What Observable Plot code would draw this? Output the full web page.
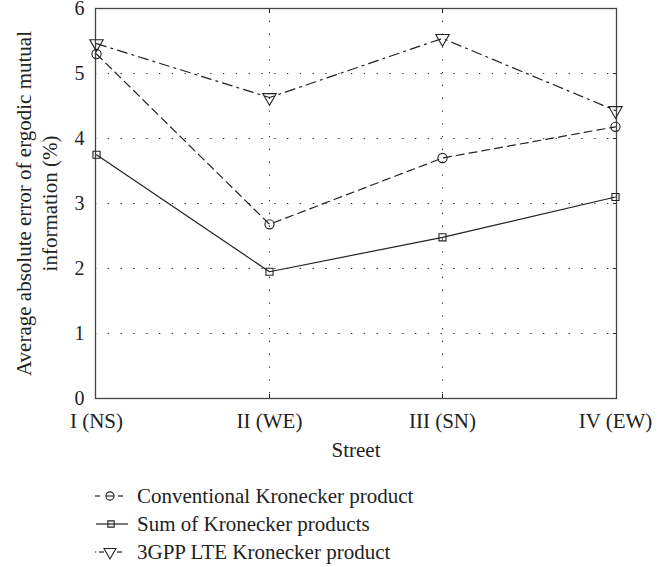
<!DOCTYPE html>
<html>
<head>
<meta charset="utf-8">
<script src="https://cdn.jsdelivr.net/npm/d3@7"></script>
<script src="https://cdn.jsdelivr.net/npm/@observablehq/plot@0.6"></script>
<style>
  body { margin: 0; background: #fff; font-family: "Liberation Serif", "DejaVu Serif", serif; color: #222; }
  #chart svg text { font-size: 21px; font-family: "Liberation Serif", serif; }
  #chart svg g[aria-label="y-axis tick label"] text { font-size: 20px; }
  #legend { padding-top: 12px; padding-left: 95px; }
  .row { height: 28px; display: flex; align-items: center; font-size: 21px; }
  .row svg { margin-right: 8px; }
</style>
</head>
<body>
<div id="chart"></div>
<div id="legend"></div>
<script>
// ---- data ----
const streets = ["I (NS)", "II (WE)", "III (SN)", "IV (EW)"];
const conventional = [5.30, 2.68, 3.70, 4.18];
const sumKronecker = [3.75, 1.95, 2.48, 3.10];
const lteKronecker = [5.46, 4.63, 5.54, 4.43];
const yTicks = [0, 1, 2, 3, 4, 5, 6];
const seriesNames = ["Conventional Kronecker product", "Sum of Kronecker products", "3GPP LTE Kronecker product"];
const xLabel = "Street";
const yLabel1 = "Average absolute error of ergodic mutual";
const yLabel2 = "information (%)";

// ---- styles per series ----
const styles = [
  {dash: "8,5", symbol: "circle", rotate: 0, r: 4.6},
  {dash: null, symbol: "square", rotate: 0, r: 4.0},
  {dash: "10,5,2,5", symbol: "triangle", rotate: 180, r: 5.0}
];
const valuesBySeries = [conventional, sumKronecker, lteKronecker];
const rows = valuesBySeries.map((vals, s) => streets.map((st, i) => ({series: seriesNames[s], street: st, value: vals[i]})));

const ink = "#222";
const marks = [
  Plot.gridY(yTicks.slice(1, -1), {stroke: "#333", strokeOpacity: 1, strokeDasharray: "1.3,11.5", strokeWidth: 1.1}),
  Plot.gridX(streets.slice(1, -1), {stroke: "#333", strokeOpacity: 1, strokeDasharray: "1.3,11.5", strokeWidth: 1.1}),
  Plot.axisY({ticks: yTicks, tickSize: 0, tickPadding: 11, tickFormat: d3.format("d"), label: null}),
  Plot.axisY({anchor: "right", ticks: yTicks.slice(1, -1), tickSize: -4, tickFormat: () => "", label: null}),
  Plot.axisX({ticks: streets, tickSize: 0, tickPadding: 15, label: xLabel, labelAnchor: "center", labelOffset: 58}),
  Plot.axisX({anchor: "top", ticks: streets.slice(1, -1), tickSize: -4, tickFormat: () => "", label: null}),
  Plot.axisX({anchor: "bottom", ticks: streets.slice(1, -1), tickSize: -4, tickFormat: () => "", label: null}),
  Plot.text([yLabel1], {text: d => d, frameAnchor: "left", textAnchor: "middle", lineAnchor: "middle", rotate: -90, dx: -71, fill: ink}),
  Plot.text([yLabel2], {text: d => d, frameAnchor: "left", textAnchor: "middle", lineAnchor: "middle", rotate: -90, dx: -45, fill: ink}),
  Plot.frame({stroke: "#444", strokeWidth: 1.3})
];
rows.forEach((data, s) => {
  const st = styles[s];
  marks.push(Plot.line(data, {x: "street", y: "value", stroke: ink, strokeWidth: 1.2, strokeDasharray: st.dash}));
  marks.push(Plot.dot(data, {x: "street", y: "value", symbol: () => st.symbol, r: st.r, rotate: st.rotate, stroke: ink, strokeWidth: 1.1, fill: "none"}));
});

const chart = Plot.plot({
  width: 664,
  height: 470,
  marginLeft: 95,
  marginRight: 48,
  marginTop: 8,
  marginBottom: 72,
  style: {fontFamily: "'Liberation Serif', serif", fontSize: "21px", color: ink, background: "white", overflow: "visible"},
  x: {type: "point", domain: streets, padding: 0, label: null},
  y: {domain: [0, 6], label: null},
  symbol: {type: "identity"},
  marks
});
document.getElementById("chart").appendChild(chart);

// ---- legend (HTML below the SVG) ----
const legend = d3.select("#legend");
const swatchSegments = [
  [[0, 5], [23, 28]],
  [[1, 33]],
  [[0, 1.2], [4, 9], [22, 27]]
];
seriesNames.forEach((name, s) => {
  const st = styles[s];
  const row = legend.append("div").attr("class", "row");
  const svg = row.append("svg").attr("width", 34).attr("height", 20);
  swatchSegments[s].forEach(([a, b]) => {
    svg.append("line").attr("x1", a).attr("x2", b).attr("y1", 10).attr("y2", 10)
      .attr("stroke", ink).attr("stroke-width", 1.2);
  });
  if (s === 0) svg.append("line").attr("x1", 11).attr("x2", 19).attr("y1", 10).attr("y2", 10).attr("stroke", ink).attr("stroke-width", 1.1);
  const sym = d3.symbol(st.symbol === "circle" ? d3.symbolCircle : st.symbol === "square" ? d3.symbolSquare : d3.symbolTriangle, Math.PI * st.r * st.r * 0.8);
  svg.append("path").attr("d", sym()).attr("transform", `translate(${s === 1 ? 16 : 15},10) rotate(${st.rotate})`)
    .attr("fill", "none").attr("stroke", ink).attr("stroke-width", 1.1);
  row.append("span").text(name);
});
</script>
</body>
</html>
